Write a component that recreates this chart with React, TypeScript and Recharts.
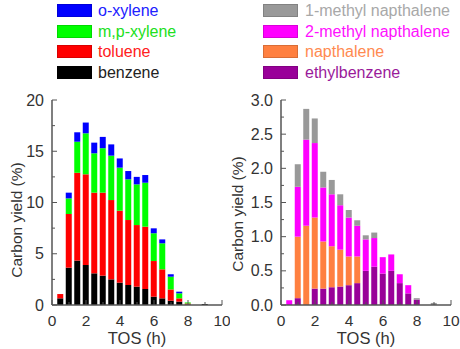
import React from 'react';
import { BarChart, Bar, XAxis, YAxis } from 'recharts';

// time on stream (h)
const tos = [0.5, 1, 1.5, 2, 2.5, 3, 3.5, 4, 4.5, 5, 5.5, 6, 6.5, 7, 7.5, 8, 9];

// left panel, carbon yield (%)
const benzene = [0.65, 3.64, 4.33, 3.9, 3.09, 2.86, 2.5, 2.18, 1.95, 1.79, 1.56, 0.81, 0.65, 0.42, 0.33, 0.05, 0.1];
const toluene = [0.42, 5.24, 8.57, 8.85, 7.87, 8.1, 7.74, 7.02, 6.34, 6.01, 6.08, 3.48, 2.83, 1.1, 0.32, 0.1, 0];
const mpXylene = [0, 1.52, 3.03, 4.0, 3.84, 4.34, 4.33, 4.2, 3.97, 3.97, 4.29, 2.71, 2.54, 1.24, 0.49, 0.1, 0];
const oXylene = [0, 0.56, 0.92, 1.05, 1.04, 1.1, 1.1, 0.9, 0.81, 0.73, 0.75, 0.48, 0.38, 0.24, 0.16, 0, 0];

// right panel, carbon yield (%)
const ethylbenzene = [0, 0.1, 0, 0.24, 0.24, 0.26, 0.27, 0.29, 0.32, 0.5, 0.56, 0.46, 0.5, 0.32, 0.17, 0.08, 0];
const napthalene = [0, 0.9, 1.16, 1.04, 0.69, 0.6, 0.54, 0.42, 0.39, 0, 0, 0, 0, 0, 0, 0, 0];
const methylNap2 = [0.07, 0.73, 1.26, 1.09, 0.79, 0.76, 0.65, 0.57, 0.45, 0.46, 0.42, 0.24, 0.24, 0.13, 0.12, 0, 0];
const methylNap1 = [0, 0.33, 0.45, 0.36, 0.23, 0.21, 0.16, 0.11, 0.08, 0.06, 0.08, 0, 0, 0, 0, 0.02, 0.03];

const xTicks = [0, 1, 2, 3, 4, 5, 6, 7, 8, 9, 10];
const leftYTicks = [0, 2.5, 5, 7.5, 10, 12.5, 15, 17.5, 20];
const rightYTicks = [0, 0.25, 0.5, 0.75, 1, 1.25, 1.5, 1.75, 2, 2.25, 2.5, 2.75, 3];

const leftSeries = [
  { key: 'benzene', name: 'benzene', values: benzene, color: '#000000', text: '#222222' },
  { key: 'toluene', name: 'toluene', values: toluene, color: '#ff0000', text: '#ff2020' },
  { key: 'mp', name: 'm,p-xylene', values: mpXylene, color: '#00ff00', text: '#20e020' },
  { key: 'o', name: 'o-xylene', values: oXylene, color: '#0000ff', text: '#2020ff' },
];

const rightSeries = [
  { key: 'eb', name: 'ethylbenzene', values: ethylbenzene, color: '#990099', text: '#9a1a9a' },
  { key: 'nap', name: 'napthalene', values: napthalene, color: '#ff8040', text: '#ff8a50' },
  { key: 'm2', name: '2-methyl napthalene', values: methylNap2, color: '#ff00ff', text: '#ff10ff' },
  { key: 'm1', name: '1-methyl napthalene', values: methylNap1, color: '#999999', text: '#a8a8a8' },
];

const buildRows = (series: typeof leftSeries) =>
  tos.map((t, i) => {
    const row: Record<string, number> = { tos: t };
    series.forEach(s => { row[s.key] = s.values[i]; });
    return row;
  });

const FONT = '"Liberation Sans", Arial, sans-serif';
const AXIS = '#555555';
const TXT = '#333333';

const YTick = (props: any) => {
  const { x, y, payload, major } = props;
  const isMajor = major(payload.value);
  const ax = x + 8;
  return (
    <g>
      <line x1={ax} x2={ax + (isMajor ? 5 : 3)} y1={y} y2={y} stroke={AXIS} strokeWidth={1} />
      {isMajor && (
        <text x={x} y={y} dy="0.35em" textAnchor="end" fontSize={16} fontFamily={FONT} fill={TXT}>
          {props.fmt(payload.value)}
        </text>
      )}
    </g>
  );
};

const XTick = (props: any) => {
  const { x, y, payload } = props;
  const isMajor = payload.value % 2 === 0;
  const ay = y - 10;
  return (
    <g>
      <line x1={x} x2={x} y1={ay} y2={ay - (isMajor ? 5 : 3)} stroke={AXIS} strokeWidth={1} />
      {isMajor && (
        <text x={x} y={y} dy="0.71em" textAnchor="middle" fontSize={15.5} fontFamily={FONT} fill={TXT}>
          {payload.value}
        </text>
      )}
    </g>
  );
};

const Panel = ({ series, yMax, yTicks, major, fmt, yWidth }: any) => (
  <BarChart
    width={230}
    height={349}
    data={buildRows(series)}
    margin={{ top: 100, right: 230 - yWidth - 170, bottom: 0, left: 0 }}
  >
    <XAxis
      dataKey="tos"
      type="number"
      domain={[0, 10]}
      ticks={xTicks}
      interval={0}
      height={44}
      tickSize={0}
      tickMargin={10}
      stroke={AXIS}
      strokeWidth={1.5}
      tick={<XTick />}
      allowDataOverflow
    />
    <XAxis xAxisId="top" orientation="top" type="number" domain={[0, 10]} height={0} tick={false} tickLine={false} stroke={AXIS} strokeWidth={1.5} />
    <YAxis
      type="number"
      domain={[0, yMax]}
      ticks={yTicks}
      interval={0}
      width={yWidth}
      tickSize={0}
      tickMargin={8}
      stroke={AXIS}
      strokeWidth={1.5}
      tick={<YTick major={major} fmt={fmt} />}
      allowDataOverflow
    />
    <YAxis yAxisId="r" orientation="right" type="number" domain={[0, yMax]} width={0} tick={false} tickLine={false} stroke={AXIS} strokeWidth={1.5} />
    {series.map((s: any) => (
      <Bar key={s.key} dataKey={s.key} stackId="a" fill={s.color} barSize={6} isAnimationActive={false} />
    ))}
  </BarChart>
);

const Legend = ({ series, swatchX, textX }: any) => (
  <>
    {[...series].reverse().map((s: any, i: number) => (
      <React.Fragment key={s.key}>
        <div style={{ position: 'absolute', left: swatchX, top: 4 + i * 20.5, width: 35, height: 13, background: s.color, boxShadow: 'inset 0 0 0 1px rgba(0,0,0,0.15)' }} />
        <div style={{ position: 'absolute', left: textX, top: 1 + i * 20.5, fontSize: 16, lineHeight: '19px', fontFamily: FONT, color: s.text, whiteSpace: 'nowrap' }}>
          {s.name}
        </div>
      </React.Fragment>
    ))}
  </>
);

const label = { position: 'absolute' as const, fontSize: 15.5, lineHeight: '16px', fontFamily: FONT, color: TXT, whiteSpace: 'nowrap' as const };

export default function App() {
  return (
    <div style={{ position: 'absolute', left: 0, top: 0, width: 460, height: 349, background: '#fff', overflow: 'hidden' }}>
      <Legend series={leftSeries} swatchX={57} textX={98} />
      <Legend series={rightSeries} swatchX={263} textX={305} />
      <div style={{ position: 'absolute', left: 0, top: 0 }}>
        <Panel series={leftSeries} yMax={20} yTicks={leftYTicks} major={(v: number) => v % 5 === 0} fmt={(v: number) => v} yWidth={52} />
      </div>
      <div style={{ position: 'absolute', left: 230, top: 0 }}>
        <Panel series={rightSeries} yMax={3} yTicks={rightYTicks} major={(v: number) => Math.abs(v * 2 - Math.round(v * 2)) < 1e-6} fmt={(v: number) => v.toFixed(1)} yWidth={51} />
      </div>
      <div style={{ ...label, left: 17, top: 220, transform: 'translate(-50%, -50%) rotate(-90deg)' }}>Carbon yield (%)</div>
      <div style={{ ...label, left: 238, top: 214, transform: 'translate(-50%, -50%) rotate(-90deg)' }}>Carbon yield (%)</div>
      <div style={{ ...label, fontSize: 16.5, lineHeight: '17px', left: 137, top: 338, transform: 'translate(-50%, -50%)' }}>TOS (h)</div>
      <div style={{ ...label, fontSize: 16.5, lineHeight: '17px', left: 366, top: 338, transform: 'translate(-50%, -50%)' }}>TOS (h)</div>
    </div>
  );
}
